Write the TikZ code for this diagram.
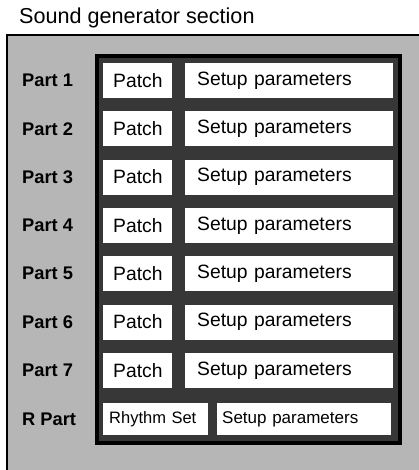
\documentclass[tikz,border=0pt]{standalone}
\usepackage{fontspec}
\setmainfont{Liberation Sans}
\definecolor{bggray}{RGB}{182,182,182}
\definecolor{panelgray}{RGB}{55,55,55}
\begin{document}
\begin{tikzpicture}[x=1pt,y=-1pt,
  cell/.style={draw=none,fill=white,inner xsep=#1,inner ysep=0pt,anchor=west,align=left,
    font=\fontsize{19.3}{21}\selectfont},
  cell/.default=10pt,
  partlabel/.style={anchor=west,inner sep=0pt,font=\fontsize{18.3}{20}\selectfont\bfseries},
  ]
\useasboundingbox (0,0) rectangle (418,470);
% title
\node[anchor=west,inner sep=0pt,font=\fontsize{21.6}{24}\selectfont] (title) at (19,18) {Sound generator section};
% outer frame
\fill[bggray] (7,35) rectangle (420,472);
\draw[line width=1.6pt] (7,472) -- (7,35) -- (420,35);
% dark panel
\draw[line width=4pt,draw=black,fill=panelgray] (97,56) rectangle (400,443);
% rows
\foreach \i in {1,...,7}{
  \pgfmathsetmacro{\yc}{80.5+48.3*(\i-1)}
  \node[partlabel] (L\i) at (22,\yc) {Part \i};
  \node[cell, minimum height=35pt, text width=49pt] (P\i) at (103,\yc) {Patch};
  \node[cell=12pt, minimum height=35pt, text width=184pt] (S\i) at (185,\yc) {Setup parameters};
}
\node[partlabel] (L8) at (22,419) {R Part};
\node[cell=6pt, minimum height=32pt, text width=93pt, font=\fontsize{16.5}{18}\selectfont] (RS) at (103,419) {Rhythm Set};
\node[cell=5pt, minimum height=32pt, text width=164pt, font=\fontsize{17}{19}\selectfont] (S8) at (217,419) {Setup parameters};
\end{tikzpicture}
\end{document}
